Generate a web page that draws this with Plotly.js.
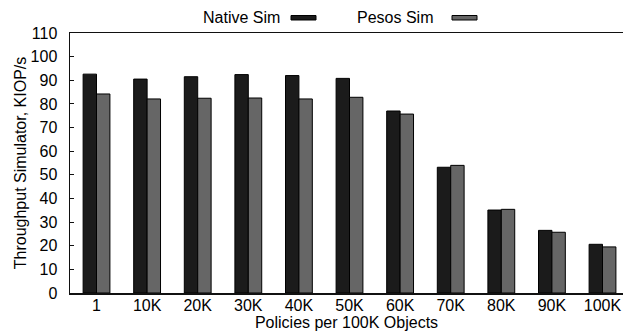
<!DOCTYPE html>
<html>
<head>
<meta charset="utf-8">
<script src="https://cdn.plot.ly/plotly-3.0.1.min.js"></script>
<style>html,body{margin:0;padding:0;background:#fff;}#chart{width:623px;height:335px;}</style>
</head>
<body>
<div id="chart"></div>
<script>
const categories = ["1", "10K", "20K", "30K", "40K", "50K", "60K", "70K", "80K", "90K", "100K"];
const nativeSim = [92.6, 90.5, 91.5, 92.4, 92.0, 90.8, 77.0, 53.2, 35.1, 26.5, 20.6];
const pesosSim = [84.2, 82.1, 82.4, 82.5, 82.1, 82.8, 75.7, 54.0, 35.4, 25.7, 19.5];
const yTicks = [0, 10, 20, 30, 40, 50, 60, 70, 80, 90, 100, 110];

const font = {family: "Liberation Sans, Arial, sans-serif", size: 16, color: "#000"};

const traces = [
  {type: "bar", name: "Native Sim", x: categories, y: nativeSim,
   marker: {color: "#1b1b1b", line: {color: "#000", width: 1}}},
  {type: "bar", name: "Pesos Sim", x: categories, y: pesosSim,
   marker: {color: "#666666", line: {color: "#000", width: 1}}}
];

const layout = {
  width: 623, height: 335,
  margin: {l: 70, r: 0, t: 33, b: 42, pad: 0},
  paper_bgcolor: "#fff", plot_bgcolor: "#fff",
  font: font,
  showlegend: false,
  barmode: "group",
  bargap: 0.47,
  bargroupgap: 0,
  xaxis: {
    type: "category",
    range: [-0.524, 10.405],
    showline: true, linecolor: "#111", linewidth: 1.5, mirror: true,
    ticks: "", showgrid: false, zeroline: false,
    tickfont: font, ticklabelstandoff: -3,
    title: {text: "Policies per 100K Objects", font: font, standoff: 0}
  },
  yaxis: {
    range: [0, 110],
    tickvals: yTicks,
    ticktext: yTicks.map(String),
    showline: true, linecolor: "#111", linewidth: 1.5,
    ticks: "inside", ticklen: 4, tickcolor: "#111", tickwidth: 1,
    showgrid: false, zeroline: false,
    tickfont: font, ticklabelstandoff: 8,
    title: {text: "Throughput Simulator, KIOP/s", font: font, standoff: 0}
  },
  annotations: [
    {xref: "paper", yref: "paper", x: (282 - 70) / 553, y: (335 - 17.5 - 42) / 260,
     xanchor: "right", yanchor: "middle", text: "Native Sim", showarrow: false, font: font},
    {xref: "paper", yref: "paper", x: (435 - 70) / 553, y: (335 - 17.5 - 42) / 260,
     xanchor: "right", yanchor: "middle", text: "Pesos Sim", showarrow: false, font: font}
  ],
  shapes: [
    {type: "rect", xref: "paper", yref: "paper",
     x0: (291 - 70) / 553, x1: (316 - 70) / 553, y0: (335 - 20 - 42) / 260, y1: (335 - 15.5 - 42) / 260,
     fillcolor: "#1b1b1b", line: {color: "#000", width: 1}},
    {type: "rect", xref: "paper", yref: "paper",
     x0: (452 - 70) / 553, x1: (477 - 70) / 553, y0: (335 - 20 - 42) / 260, y1: (335 - 15.5 - 42) / 260,
     fillcolor: "#666666", line: {color: "#000", width: 1}}
  ]
};

Plotly.newPlot("chart", traces, layout, {displayModeBar: false, staticPlot: true});
</script>
</body>
</html>
